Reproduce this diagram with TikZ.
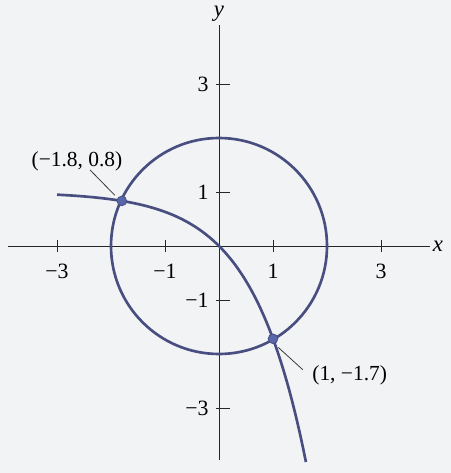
\documentclass[tikz,border=0pt]{standalone}
\usepackage{fontspec}
\setmainfont{Liberation Serif}
\definecolor{curveblue}{RGB}{72,78,128}
\definecolor{dotblue}{RGB}{88,102,170}
\definecolor{paper}{RGB}{241,243,245}
\begin{document}
\begin{tikzpicture}[x=1cm,y=1cm,
  curvecol/.style={draw=curveblue, line width=1.4pt},
  axisline/.style={draw=black!85, line width=0.5pt},
  tickmark/.style={draw=black!85, line width=0.5pt},
  ticklabel/.style={font=\fontsize{11.5}{13}\selectfont, inner sep=1pt},
  ptlabel/.style={font=\fontsize{11.3}{13}\selectfont, inner sep=1pt},
  leader/.style={draw=black!80, line width=0.4pt},
  dotmark/.style={fill=dotblue, draw=curveblue, line width=0.4pt}]
\fill[paper] (-4.056,-4.204) rectangle (4.296,4.556);
\useasboundingbox (-4.056,-4.204) rectangle (4.296,4.556);
% axes
\coordinate (xl) at (-3.9,0);
\coordinate (xr) at (3.9,0);
\coordinate (yb) at (0,-3.97);
\coordinate (yt) at (0,4.1);
\draw[axisline] (xl) -- (xr);
\draw[axisline] (yb) -- (yt);
\node[anchor=west, inner sep=1pt, font=\fontsize{12}{13}\selectfont\itshape] (xlab) at (3.92,0) {x};
\node[anchor=south, inner sep=1pt, font=\fontsize{12}{13}\selectfont\itshape] (ylab) at (0,4.12) {y};
% ticks
\foreach \v/\t in {-3/−3,-1/−1,1/1,3/3} {
  \draw[tickmark] (\v,-0.12) -- (\v,0.12);
  \node[ticklabel, anchor=north] (xt\v) at (\v,-0.3) {\t};
  \draw[tickmark] (-0.06,\v) -- (0.2,\v);
  \node[ticklabel, anchor=east] (yt\v) at (-0.15,\v) {\t};
}
% circle
\draw[curvecol] (0,0) circle (2);
% curve y = 1 - e^x
\draw[curvecol, domain=-3:1.61, samples=80, smooth] plot (\x,{1-exp(\x)});
% intersection points
\coordinate (p1) at (-1.8,{1-exp(-1.8)});
\coordinate (p2) at (1,{1-exp(1)});
\filldraw[dotmark] (p1) circle (0.09);
\filldraw[dotmark] (p2) circle (0.09);
% labels
\node[ptlabel] (l1) at (-2.63,1.56) {(−1.8, 0.8)};
\node[ptlabel] (l2) at (2.42,-2.39) {(1, −1.7)};
\coordinate (a1) at (-2.39,1.41);
\coordinate (b1) at (-1.93,0.94);
\coordinate (a2) at (1.1,-1.88);
\coordinate (b2) at (1.55,-2.29);
\draw[leader] (a1) -- (b1);
\draw[leader] (a2) -- (b2);
\end{tikzpicture}
\end{document}
